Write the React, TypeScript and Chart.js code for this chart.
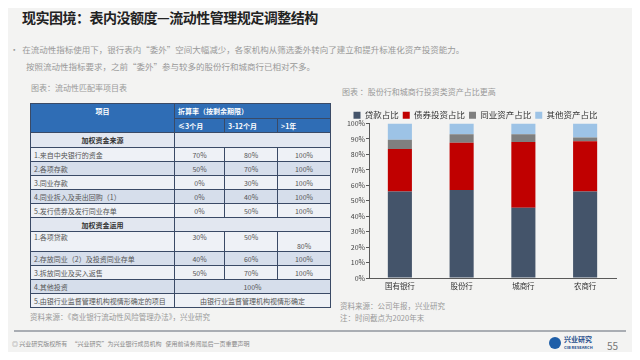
import React, { useEffect, useRef } from "react";
import { Chart, registerables } from "chart.js";
Chart.register(...registerables);

const categories = ["国有银行", "股份行", "城商行", "农商行"];
const seriesNames = ["贷款占比", "债券投资占比", "同业资产占比", "其他资产占比"];
const loanShare = [56, 57, 45.5, 56];
const bondShare = [27.5, 30.5, 42.5, 32.5];
const interbankShare = [6, 5.5, 5, 2.5];
const otherShare = [10.5, 7, 7, 9];
const seriesColors = ["#44546A", "#C00000", "#7F7F7F", "#9DC3E6"];
const yTicks = [0, 10, 20, 30, 40, 50, 60, 70, 80, 90, 100];

const periodHeaders = ["≤3个月", "3-12个月", ">1年"];
const sourceItems = ["1.来自中央银行的资金", "2.各项存款", "3.同业存款", "4.同业拆入及卖出回购（1）", "5.发行债券及发行同业存单"];
const sourceRates = [["70%", "80%", "100%"], ["50%", "70%", "100%"], ["0%", "30%", "100%"], ["0%", "40%", "100%"], ["0%", "50%", "100%"]];
const useItems = ["1.各项贷款", "2.存放同业（2）及投资同业存单", "3.拆放同业及买入返售"];
const useRates = [["30%", "50%", "80%"], ["40%", "60%", "100%"], ["50%", "70%", "100%"]];

const FONT = '"Noto Sans CJK SC", "Noto Sans", sans-serif';
const border = "1px solid #3A4A66";
const light = "#EEF1F6";
const dark = "#D6DEEB";
const section = "#E2E7F0";

function cell(extra: React.CSSProperties = {}): React.CSSProperties {
  return { border, padding: "0 3px", fontSize: 7, color: "#555", whiteSpace: "nowrap", ...extra };
}

const tightLegend = {
  id: "tightLegend",
  afterInit(chart: any) {
    const legend = chart.legend;
    if (!legend) return;
    const orig = legend.fit;
    legend.fit = function () {
      orig.call(this);
      this.height -= 6;
    };
  },
};

function BarChart() {
  const ref = useRef<HTMLCanvasElement>(null);
  useEffect(() => {
    if (!ref.current) return;
    const values = [loanShare, bondShare, interbankShare, otherShare];
    const chart = new Chart(ref.current, {
      type: "bar",
      plugins: [tightLegend],
      data: {
        labels: categories,
        datasets: seriesNames.map((name, i) => ({
          label: name,
          data: values[i],
          backgroundColor: seriesColors[i],
          borderWidth: 0,
          categoryPercentage: 1,
          barPercentage: 0.39,
        })),
      },
      options: {
        animation: false,
        responsive: false,
        maintainAspectRatio: false,
        layout: { padding: { left: 0, right: 9, top: 0, bottom: 0 } },
        plugins: {
          legend: {
            position: "top",
            labels: { boxWidth: 7, boxHeight: 7, padding: 4, color: "#333", font: { size: 8.5, family: FONT } },
          },
          tooltip: { enabled: false },
        },
        scales: {
          x: {
            stacked: true,
            grid: { display: false, drawTicks: false },
            border: { color: "#595959", width: 1 },
            ticks: { color: "#333", font: { size: 7.5, family: FONT }, padding: 4 },
            afterFit: (s: any) => { s.height = 18; },
          },
          y: {
            stacked: true,
            min: 0,
            max: 100,
            afterBuildTicks: (s: any) => { s.ticks = yTicks.map((v) => ({ value: v })); },
            grid: { drawOnChartArea: false, drawTicks: true, tickLength: 3, color: "#595959" },
            border: { color: "#595959", width: 1 },
            ticks: { color: "#444", font: { size: 7, family: FONT }, padding: 1, callback: (v: any) => v + "%" },
            afterFit: (s: any) => { s.width = 34; },
          },
        },
      },
    });
    return () => chart.destroy();
  }, []);
  return <canvas ref={ref} width={290} height={189} style={{ position: "absolute", left: 335, top: 107, width: 290, height: 189 }} />;
}

export default function App() {
  const grey = "#999";
  return (
    <div style={{ position: "relative", width: 640, height: 360, margin: -8, background: "#F3F3F2", fontFamily: FONT, overflow: "hidden" }}>
      <div style={{ position: "absolute", left: 22, top: 7, fontSize: 14, fontWeight: 700, color: "#222", letterSpacing: -0.5 }}>
        现实困境：表内没额度—流动性管理规定调整结构
      </div>
      <div style={{ position: "absolute", left: 10, top: 41, fontSize: 8.5, color: grey, lineHeight: "17px" }}>
        <div>•&nbsp;&nbsp;在流动性指标使用下，银行表内“委外”空间大幅减少，各家机构从筛选委外转向了建立和提升标准化资产投资能力。</div>
        <div style={{ paddingLeft: 16 }}>按照流动性指标要求，之前“委外”参与较多的股份行和城商行已相对不多。</div>
      </div>
      <div style={{ position: "absolute", left: 31, top: 82, fontSize: 8, color: grey }}>图表：流动性匹配率项目表</div>
      <table style={{ position: "absolute", left: 30, top: 103, width: 300, borderCollapse: "collapse", tableLayout: "fixed", fontFamily: FONT }}>
        <colgroup>
          <col style={{ width: 144 }} />
          <col style={{ width: 50 }} />
          <col style={{ width: 53 }} />
          <col style={{ width: 53 }} />
        </colgroup>
        <tbody>
          <tr style={{ height: 15, background: "#2F6DB5" }}>
            <td rowSpan={2} style={cell({ color: "#fff", textAlign: "center", fontWeight: 700, verticalAlign: "top", paddingTop: 2 })}>项目</td>
            <td colSpan={3} style={cell({ color: "#fff", fontWeight: 700 })}>折算率（按剩余期限）</td>
          </tr>
          <tr style={{ height: 14, background: "#2F6DB5" }}>
            {periodHeaders.map((h) => (
              <td key={h} style={cell({ color: "#fff", fontWeight: 700 })}>{h}</td>
            ))}
          </tr>
          <tr style={{ height: 15, background: section }}>
            <td style={cell({ textAlign: "center", fontWeight: 700, color: "#333" })}>加权资金来源</td>
            <td colSpan={3} style={cell()}></td>
          </tr>
          {sourceItems.map((item, i) => (
            <tr key={item} style={{ height: 14, background: i % 2 === 0 ? light : dark }}>
              <td style={cell()}>{item}</td>
              {sourceRates[i].map((r, j) => (
                <td key={j} style={cell({ textAlign: "center" })}>{r}</td>
              ))}
            </tr>
          ))}
          <tr style={{ height: 14, background: section }}>
            <td style={cell({ textAlign: "center", fontWeight: 700, color: "#333" })}>加权资金运用</td>
            <td colSpan={3} style={cell()}></td>
          </tr>
          {useItems.map((item, i) => (
            <tr key={item} style={{ height: i === 0 ? 20 : 14, background: i % 2 === 0 ? light : dark }}>
              <td style={cell({ verticalAlign: i === 0 ? "top" : "middle" })}>{item}</td>
              {useRates[i].map((r, j) => (
                <td key={j} style={cell({ textAlign: "center", verticalAlign: i === 0 ? (j === 2 ? "bottom" : "top") : "middle" })}>{r}</td>
              ))}
            </tr>
          ))}
          <tr style={{ height: 14, background: dark }}>
            <td style={cell()}>4.其他投资</td>
            <td colSpan={3} style={cell({ textAlign: "center" })}>100%</td>
          </tr>
          <tr style={{ height: 14, background: light }}>
            <td style={cell()}>5.由银行业监督管理机构视情形确定的项目</td>
            <td colSpan={3} style={cell({ textAlign: "center" })}>由银行业监督管理机构视情形确定</td>
          </tr>
        </tbody>
      </table>
      <div style={{ position: "absolute", left: 30, top: 311, fontSize: 7.5, color: grey }}>资料来源：《商业银行流动性风险管理办法》，兴业研究</div>
      <div style={{ position: "absolute", left: 342, top: 86, fontSize: 8, color: grey }}>图表 ：股份行和城商行投资类资产占比更高</div>
      <BarChart />
      <div style={{ position: "absolute", left: 340, top: 300, fontSize: 7.5, color: grey, lineHeight: "12px" }}>
        <div>资料来源：公司年报，兴业研究</div>
        <div>注：时间截点为2020年末</div>
      </div>
      <div style={{ position: "absolute", left: 14, top: 330, width: 612, height: 2, background: "#A9ADB3" }} />
      <div style={{ position: "absolute", left: 12, top: 339, fontSize: 6, color: "#888" }}>
        ◎ 兴业研究版权所有&nbsp;&nbsp;&nbsp;“兴业研究”为兴业银行成员机构&nbsp;&nbsp;&nbsp;使用前请务阅最后一页重要声明
      </div>
      <div style={{ position: "absolute", left: 549, top: 337, width: 12, height: 12, borderRadius: 6, background: "#1F5FA8" }} />
      <div style={{ position: "absolute", left: 564, top: 335, fontSize: 7, color: "#1F4E8C", fontWeight: 700, lineHeight: "8px" }}>
        <div>兴业研究</div>
        <div style={{ fontSize: 4 }}>CIB RESEARCH</div>
      </div>
      <div style={{ position: "absolute", left: 607, top: 338, fontSize: 10, color: "#777" }}>55</div>
    </div>
  );
}
